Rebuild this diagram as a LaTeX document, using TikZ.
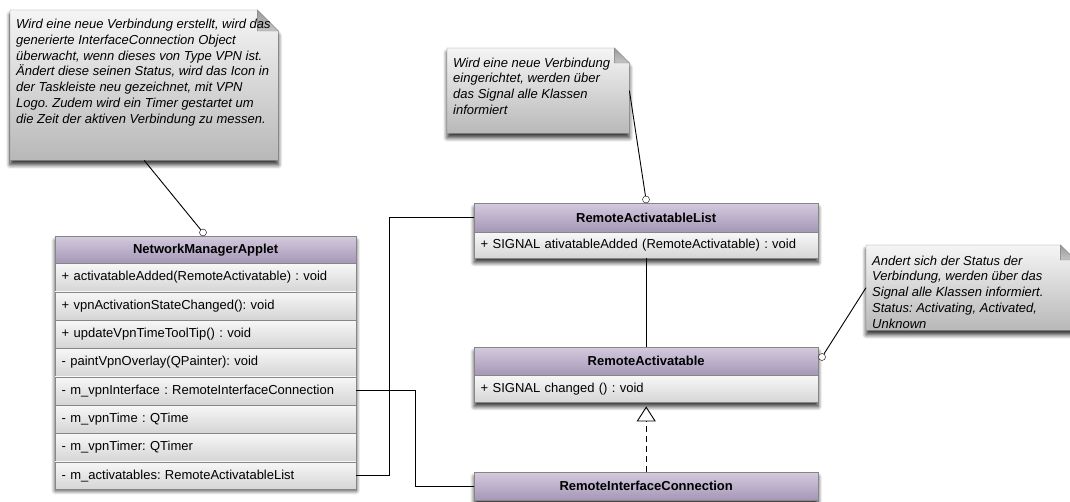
\documentclass[tikz,border=0pt]{standalone}
\usepackage{fontspec}
\setmainfont{Liberation Sans}
\usetikzlibrary{arrows.meta,calc,shadows.blur}
\frenchspacing

\definecolor{headtop}{HTML}{D3CADE}
\definecolor{headbot}{HTML}{A597B6}
\definecolor{rowtop}{HTML}{F7F7F7}
\definecolor{rowbot}{HTML}{D5D5D5}
\definecolor{notetop}{HTML}{F5F5F5}
\definecolor{notebot}{HTML}{B8B8B8}
\definecolor{foldtop}{HTML}{9A9A9A}
\definecolor{foldbot}{HTML}{C4C4C4}
\definecolor{boxline}{HTML}{868686}

% note paper with a folded top-right corner, drawn over a placeholder node
\newcommand\foldnote[2]{%
  \shadedraw[draw=boxline, top color=notetop, bottom color=notebot, softshadow]
    (#1.south west) -- (#1.north west) -- ([xshift=-#2pt]#1.north east)
    -- ([yshift=-#2pt]#1.north east) -- (#1.south east) -- cycle;
  \shadedraw[draw=boxline, top color=foldtop, bottom color=foldbot]
    ([xshift=-#2pt]#1.north east) -- ([xshift=-#2pt,yshift=-#2pt]#1.north east)
    -- ([yshift=-#2pt]#1.north east) -- cycle;
}

\begin{document}
\begin{tikzpicture}[x=1pt, y=1pt,
  font=\fontsize{13}{15.5}\selectfont,
  softshadow/.style={blur shadow={shadow xshift=0pt, shadow yshift=-4.5pt,
      shadow blur radius=4pt, shadow blur steps=8, shadow opacity=80}},
  notearea/.style={rectangle, inner sep=0, anchor=north west},
  notetext/.style={inner sep=0, anchor=north west, align=left,
      font=\fontsize{13}{15.75}\selectfont\itshape},
  clsframe/.style={rectangle, draw=boxline, fill=white, inner sep=0,
      anchor=north west, softshadow},
  clshead/.style={rectangle, draw=boxline, top color=headtop, bottom color=headbot,
      inner sep=0, anchor=north west, font=\fontsize{13}{15.5}\selectfont\bfseries},
  clsrow/.style={rectangle, draw=boxline, top color=rowtop, bottom color=rowbot,
      inner xsep=6.5pt, inner ysep=0, anchor=north west, align=left},
  lollipop/.style={circle, draw=black, fill=white, inner sep=0, minimum size=7pt},
  link/.style={draw=black, line width=0.9pt},
  realize/.style={draw=black, line width=0.9pt, dash pattern=on 6pt off 4pt,
      -{Triangle[open, width=19pt, length=15pt, line width=0.9pt]}}
]
\useasboundingbox (0,0) rectangle (1070,-502);

% ---------- notes ----------
\node[notearea, minimum width=268, minimum height=150] (n1) at (10,-10) {};
\foldnote{n1}{21}
\node[notetext] (n1t) at (16,-19) {Wird eine neue Verbindung erstellt, wird das\\
generierte InterfaceConnection Object\\
überwacht, wenn dieses von Type VPN ist.\\
Ändert diese seinen Status, wird das Icon in\\
der Taskleiste neu gezeichnet, mit VPN\\
Logo. Zudem wird ein Timer gestartet um\\
die Zeit der aktiven Verbindung zu messen.};

\node[notearea, minimum width=182, minimum height=85] (n2) at (447,-48) {};
\foldnote{n2}{15}
\node[notetext] (n2t) at (453,-57.5) {Wird eine neue Verbindung\\
eingerichtet, werden über\\
das Signal alle Klassen\\
informiert};

\node[notearea, minimum width=209, minimum height=85] (n3) at (866,-245) {};
\foldnote{n3}{15}
\node[notetext] (n3t) at (872,-255.5) {Andert sich der Status der\\
Verbindung, werden über das\\
Signal alle Klassen informiert.\\
Status: Activating, Activated,\\
Unknown};

% ---------- NetworkManagerApplet ----------
\node[clsframe, minimum width=301, minimum height=250] (nma) at (55,-236) {};
\node[clshead, minimum width=301, minimum height=27] (nmah) at (55,-236) {NetworkManagerApplet};
\node[clsrow, text width=288, minimum height=27.9] (nma1) at (nmah.south west) {+ activatableAdded(RemoteActivatable) : void};
\node[clsrow, text width=288, minimum height=27.9] (nma2) at (nma1.south west) {+ vpnActivationStateChanged(): void};
\node[clsrow, text width=288, minimum height=27.9] (nma3) at (nma2.south west) {+ updateVpnTimeToolTip() : void};
\node[clsrow, text width=288, minimum height=27.9] (nma4) at (nma3.south west) {- paintVpnOverlay(QPainter): void};
\node[clsrow, text width=288, minimum height=27.9] (nma5) at (nma4.south west) {- m\_vpnInterface : RemoteInterfaceConnection};
\node[clsrow, text width=288, minimum height=27.9] (nma6) at (nma5.south west) {- m\_vpnTime : QTime};
\node[clsrow, text width=288, minimum height=27.9] (nma7) at (nma6.south west) {- m\_vpnTimer: QTimer};
\node[clsrow, text width=288, minimum height=27.9] (nma8) at (nma7.south west) {- m\_activatables: RemoteActivatableList};

% ---------- RemoteActivatableList ----------
\node[clsframe, minimum width=344, minimum height=55] (ral) at (474,-203) {};
\node[clshead, minimum width=344, minimum height=29] (ralh) at (474,-203) {RemoteActivatableList};
\node[clsrow, text width=331, minimum height=26] (ral1) at (ralh.south west) {+ SIGNAL ativatableAdded (RemoteActivatable) : void};

% ---------- RemoteActivatable ----------
\node[clsframe, minimum width=344, minimum height=55] (ra) at (474,-347) {};
\node[clshead, minimum width=344, minimum height=28] (rah) at (474,-347) {RemoteActivatable};
\node[clsrow, text width=331, minimum height=27] (ra1) at (rah.south west) {+ SIGNAL changed () : void};

% ---------- RemoteInterfaceConnection ----------
\node[clsframe, minimum width=344, minimum height=28] (ric) at (474,-472) {};
\node[clshead, minimum width=344, minimum height=28] (rich) at (474,-472) {RemoteInterfaceConnection};

% ---------- connectors ----------
\node[lollipop] (c1) at (203,-232.5) {};
\node[lollipop] (c2) at (646,-199.5) {};
\node[lollipop] (c3) at (822,-357) {};

\draw[link] (c1) -- (n1.south);
\draw[link] (c2) -- (n2.east);
\draw[link] (c3) -- (n3.west);

\draw[link] (nma5.east) -- ++(59,0) |- (rich.west);
\draw[link] (nma8.east) -- ++(33,0) |- (ralh.west);
\draw[link] (ral.south) -- (ra.north);
\draw[realize] (ric.north) -- ([yshift=-4pt]ra.south);
\end{tikzpicture}
\end{document}
